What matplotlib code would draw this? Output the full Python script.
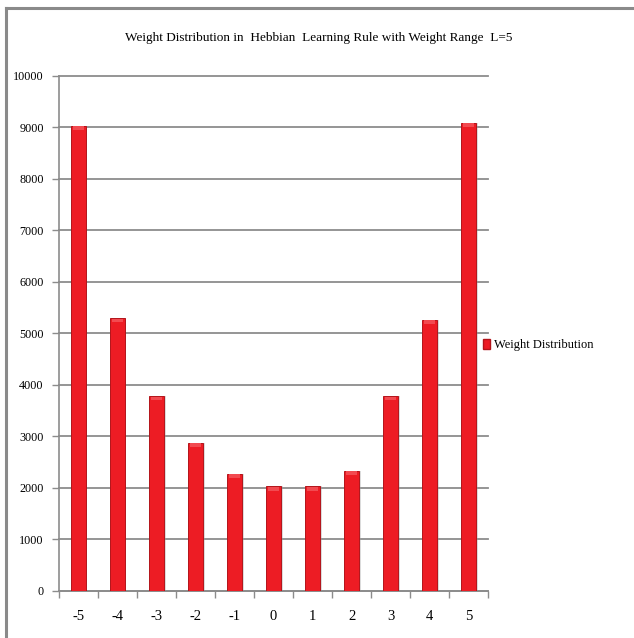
import matplotlib
matplotlib.use("Agg")
import matplotlib.pyplot as plt
from matplotlib.patches import Patch
from matplotlib.lines import Line2D
import numpy as np

weights = ["-5", "-4", "-3", "-2", "-1", "0", "1", "2", "3", "4", "5"]
counts = [9035, 5295, 3780, 2878, 2277, 2030, 2030, 2335, 3780, 5265, 9090]
y_ticks = [0, 1000, 2000, 3000, 4000, 5000, 6000, 7000, 8000, 9000, 10000]

plt.rcParams["font.family"] = ["Liberation Serif", "DejaVu Serif"]

fig = plt.figure(figsize=(6.34, 6.38), dpi=100)
ax = fig.add_axes([0.0931, 0.0737, 0.6767, 0.8072])

x = np.arange(len(weights))
# slight drop shadow, then the bars themselves
ax.bar(x + 0.04, counts, width=0.38, color="#9a9a9a", alpha=0.35, zorder=2)
bars = ax.bar(x, counts, width=0.38, color="#ED1C24", edgecolor="#B3141A",
              linewidth=0.7, zorder=3, label="Weight Distribution")
# lighter cap on top of each bar
for b in bars:
    ax.bar(b.get_x() + b.get_width() / 2, 70, bottom=b.get_height() - 80,
           width=b.get_width() * 0.8, color="#F24A50", linewidth=0, zorder=4)

ax.set_xlim(-0.5, len(weights) - 0.5)
ax.set_ylim(0, 10000)
ax.set_yticks(y_ticks)
ax.set_yticklabels([str(v) for v in y_ticks], fontsize=8.7)
ax.set_xticks(x)
ax.set_xticklabels(weights, fontsize=10.5)
ax.set_xticks(np.arange(-0.5, len(weights)), minor=True)
ax.tick_params(axis="x", which="major", length=0, pad=14)
ax.tick_params(axis="x", which="minor", length=5, color="#8c8c8c", width=1)
ax.tick_params(axis="y", length=5, color="#8c8c8c", width=1, pad=6)

ax.yaxis.grid(True, color="#8c8c8c", linewidth=1.3, zorder=1)
for gl in ax.get_ygridlines():
    gl.set_clip_on(False)
ax.set_axisbelow(True)
for side in ["top", "right"]:
    ax.spines[side].set_visible(False)
for side in ["left", "bottom"]:
    ax.spines[side].set_color("#8c8c8c")
    ax.spines[side].set_linewidth(1.2)

fig.text(0.503, 0.94, "Weight Distribution in  Hebbian  Learning Rule with Weight Range  L=5",
         ha="center", va="center", fontsize=9.5)

fig.legend(handles=[Patch(facecolor="#ED1C24", edgecolor="#B3141A", label="Weight Distribution")],
           loc="center left", bbox_to_anchor=(0.762, 0.459), frameon=False,
           borderpad=0, borderaxespad=0,
           fontsize=9, handlelength=0.55, handleheight=0.85, handletextpad=0.3)

# chart frame along the top and left edges
fig.add_artist(Line2D([0.0087, 1.0], [0.9867, 0.9867], color="#8a8a8a", linewidth=2.2))
fig.add_artist(Line2D([0.0087, 0.0087], [0.0, 0.9867], color="#8a8a8a", linewidth=2.2))

fig.savefig("out.png", dpi=100, facecolor="white")
